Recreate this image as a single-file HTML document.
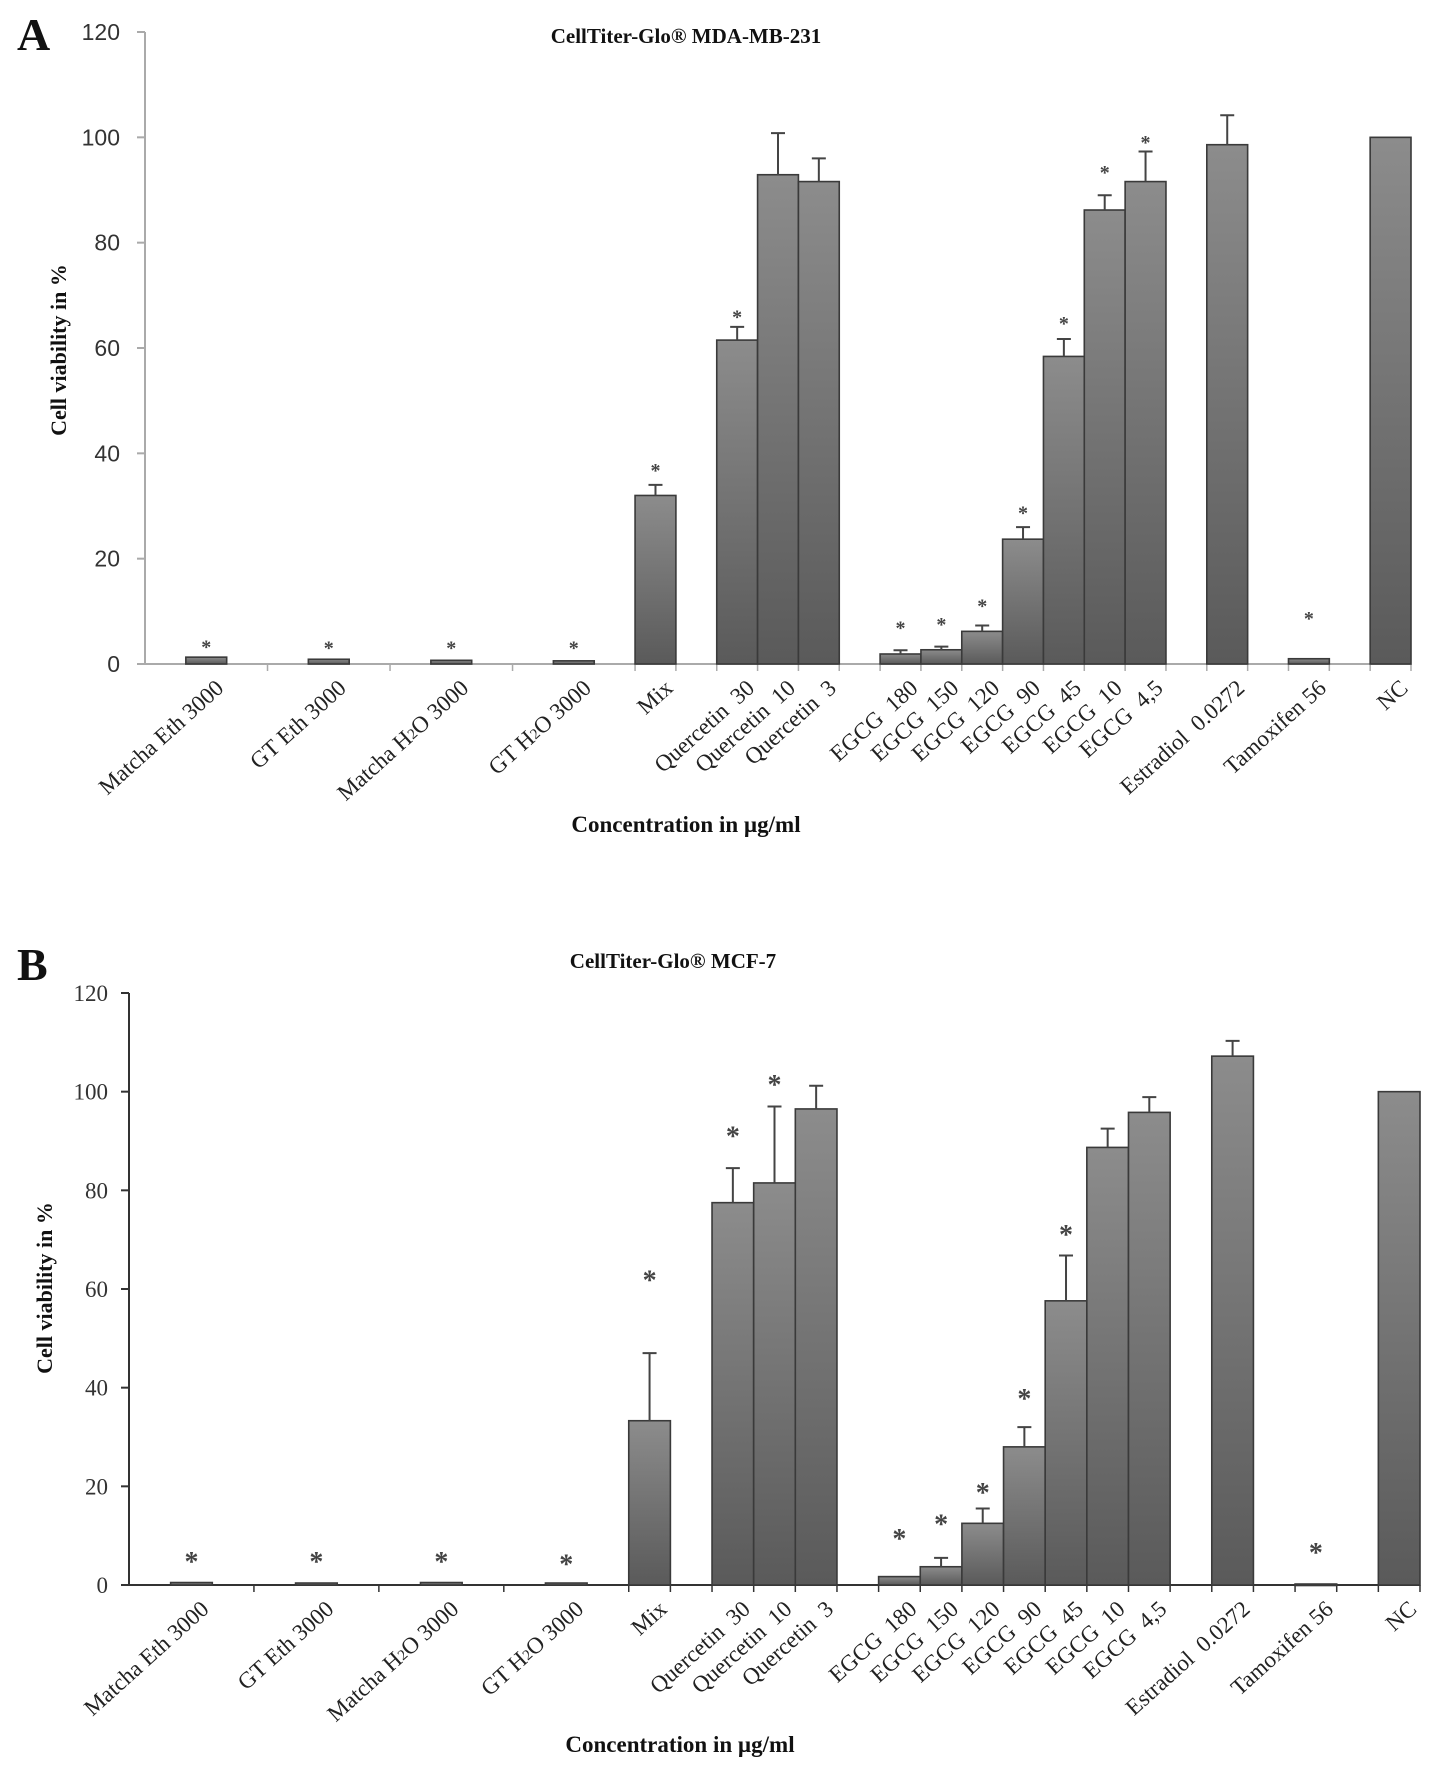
<!DOCTYPE html>
<html><head><meta charset="utf-8">
<style>
html,body{margin:0;padding:0;background:#fff;}
svg{display:block;}
</style></head>
<body>
<svg id="fig" width="1441" height="1775" viewBox="0 0 1441 1775" xmlns="http://www.w3.org/2000/svg">
<defs>
<linearGradient id="barGrad" x1="0" y1="0" x2="0" y2="1">
<stop offset="0" stop-color="#8c8c8c"/><stop offset="1" stop-color="#5a5a5a"/>
</linearGradient>
</defs>
<text x="17" y="50" font-family="Liberation Serif, serif" font-weight="bold" font-size="46" fill="#111">A</text>
<text x="17" y="980" font-family="Liberation Serif, serif" font-weight="bold" font-size="46" fill="#111">B</text>
<g id="chartA"></g>
<g id="chartB"></g>
</svg>
<script>
// Categories (31 slots, empty strings = gap slots)
const categories = ["","Matcha Eth 3000","","","GT Eth 3000","","","Matcha H2O 3000","","","GT H2O 3000","","Mix","","Quercetin  30","Quercetin  10","Quercetin  3","","EGCG  180","EGCG  150","EGCG  120","EGCG  90","EGCG  45","EGCG  10","EGCG  4,5","","Estradiol  0.0272","","Tamoxifen 56","","NC"];
const yTicks = [0,20,40,60,80,100,120];
// Panel A: MDA-MB-231
const valuesA = [null,1.3,null,null,0.9,null,null,0.7,null,null,0.6,null,32,null,61.5,92.9,91.6,null,1.9,2.7,6.2,23.7,58.4,86.2,91.6,null,98.6,null,1.0,null,100];
const errTopA = [null,1.5,null,null,1.0,null,null,0.8,null,null,0.7,null,34,null,64,100.8,96,null,2.6,3.3,7.3,26,61.7,89,97.3,null,104.2,null,1.1,null,100];
const starA = [null,4.1,null,null,3.9,null,null,3.9,null,null,3.9,null,37.6,null,66.7,null,null,null,7.7,8.4,11.9,29.5,65.5,94.2,99.9,null,null,null,9.5,null,null];
// Panel B: MCF-7
const valuesB = [null,0.5,null,null,0.4,null,null,0.5,null,null,0.4,null,33.3,null,77.5,81.5,96.5,null,1.7,3.7,12.5,28,57.6,88.7,95.8,null,107.2,null,0.2,null,100];
const errTopB = [null,0.6,null,null,0.5,null,null,0.6,null,null,0.5,null,47,null,84.5,97.0,101.2,null,1.9,5.5,15.5,32,66.8,92.5,98.9,null,110.3,null,0.3,null,100];
const starB = [null,6,null,null,6,null,null,6,null,null,5.5,null,63,null,92.2,102.6,null,null,10.6,13.6,19.9,39,72.2,null,null,null,null,null,7.8,null,null];

const NS="http://www.w3.org/2000/svg";
function mk(parent,tag,attrs,text){const e=document.createElementNS(NS,tag);for(const k in attrs)e.setAttribute(k,attrs[k]);if(text!==undefined)e.textContent=text;parent.appendChild(e);return e;}

function drawChart(g,cfg,values,errTop,stars){
  const n=categories.length;
  const slot=(cfg.x1-cfg.x0)/n;
  const xs=i=>cfg.x0+i*slot;
  const ys=v=>cfg.y0-(v/120)*(cfg.y0-cfg.y120);
  const serif="Liberation Serif, serif";
  const t=mk(g,'text',{x:cfg.titleX,y:cfg.titleY,'text-anchor':'middle','font-family':serif,'font-weight':'bold','font-size':21,fill:'#111'},cfg.title);
  
  
  const ya=mk(g,'line',{x1:cfg.x0,y1:cfg.y120,x2:cfg.x0,y2:cfg.y0,stroke:cfg.axisColor,'stroke-width':2});
  
  
  yTicks.forEach(v=>{
    const y=ys(v);
    mk(g,'line',{x1:cfg.x0-8,y1:y,x2:cfg.x0,y2:y,stroke:cfg.axisColor,'stroke-width':2});
    const tl=mk(g,'text',{x:cfg.tickX,y:y+8,'text-anchor':'end','font-family':cfg.tickFont,'font-size':cfg.tickSize,fill:'#333'},String(v));
    
    
  });
  const xa=mk(g,'line',{x1:cfg.x0,y1:cfg.y0,x2:cfg.x1,y2:cfg.y0,stroke:cfg.axisColor,'stroke-width':2});
  
  
  for(let i=0;i<=n;i++){
    const left=i<11? (i%3===0 && i>0):(i>=12);
    if(left) mk(g,'line',{x1:xs(i),y1:cfg.y0,x2:xs(i),y2:cfg.y0+7,stroke:cfg.axisColor,'stroke-width':1.5});
  }
  for(let i=0;i<n;i++){
    if(values[i]===null) continue;
    const bx=xs(i), bw=slot, top=ys(values[i]);
    const cx=bx+bw/2;
    const r=mk(g,'rect',{x:bx,y:top,width:bw,height:Math.max(cfg.y0-top,1.5),fill:'url(#barGrad)',stroke:'#3a3a3a','stroke-width':1.6});
    
    
    if(errTop[i]!==null && errTop[i]-values[i]>0.3){
      const ey=ys(errTop[i]);
      const el=mk(g,'path',{d:`M${cx},${top} V${ey} M${cx-7},${ey} H${cx+7}`,stroke:'#444','stroke-width':2,fill:'none'});
      
      
    }
    if(stars[i]!==null){
      const s=mk(g,'text',{x:cx,y:ys(stars[i])+cfg.starSize*0.55,'text-anchor':'middle','font-family':serif,'font-size':cfg.starSize,'font-weight':'bold',fill:'#444'},'*');
      
      
    }
    const lx=cx+8, ly=cfg.y0+14;
    const lab=mk(g,'text',{x:lx,y:ly,'text-anchor':'end','font-family':serif,'font-size':23,fill:'#222',transform:`rotate(-42 ${lx} ${ly})`,'dominant-baseline':'hanging',style:'white-space:pre'});
    const name=categories[i];
    if(name.indexOf('H2O')>=0){
      const parts=name.split('H2O');
      lab.appendChild(document.createTextNode(parts[0]+'H'));
      const sub=document.createElementNS(NS,'tspan');sub.setAttribute('font-size','15');sub.setAttribute('dy','5');sub.textContent='2';lab.appendChild(sub);
      const rest=document.createElementNS(NS,'tspan');rest.setAttribute('dy','-5');rest.textContent='O'+parts[1];lab.appendChild(rest);
    } else lab.textContent=name;
    
    
  }
  const yt=mk(g,'text',{x:cfg.ytX,y:cfg.ytY,'text-anchor':'middle','font-family':serif,'font-weight':'bold','font-size':22,fill:'#111',transform:`rotate(-90 ${cfg.ytX} ${cfg.ytY})`},'Cell viability in %');
  
  
  const xt=mk(g,'text',{x:cfg.xtX,y:cfg.xtY,'text-anchor':'middle','font-family':serif,'font-weight':'bold','font-size':23,fill:'#111'},'Concentration in µg/ml');
  
  
}

drawChart(document.getElementById('chartA'),{x0:145,x1:1411,y0:664,y120:32,title:'CellTiter-Glo® MDA-MB-231',titleX:686,titleY:43,axisColor:'#aaa',tickX:120,tickFont:'Liberation Sans, sans-serif',tickSize:23,starSize:20,ytX:66,ytY:350,xtX:686,xtY:832},valuesA,errTopA,starA);
drawChart(document.getElementById('chartB'),{x0:129,x1:1420,y0:1585,y120:993,title:'CellTiter-Glo® MCF-7',titleX:673,titleY:968,axisColor:'#333',tickX:108,tickFont:'Liberation Serif, serif',tickSize:23,starSize:28,ytX:52,ytY:1288,xtX:680,xtY:1752},valuesB,errTopB,starB);
</script>
</body></html>
